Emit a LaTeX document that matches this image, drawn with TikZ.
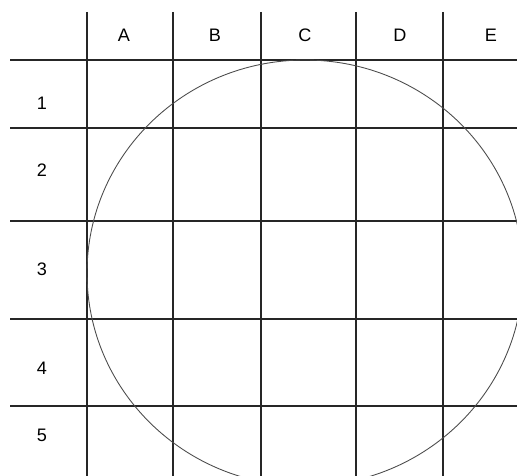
\documentclass[tikz,border=0pt]{standalone}
\usepackage{fontspec}
\setmainfont{Liberation Sans}
\usetikzlibrary{calc}
\tikzstyle{rule}=[line width=.6pt, black!85]
\tikzstyle{rim}=[line width=.5pt, black!70]
\tikzstyle{lbl}=[inner sep=0, font=\fontsize{10.3}{12}\selectfont]

\begin{document}
\begin{tikzpicture}[x=.02cm, y=-.02cm]
\useasboundingbox (0,0) rectangle (517,476);
\clip (0,0) rectangle (517,476);
%\draw[help lines,step=10] (0,0) grid (517,476);
% column rules
\foreach \x in {87,173,261,356,443}
  \draw[rule] (\x,12)--(\x,476);
% row rules
\foreach \y in {60,128,221,319,406}
  \draw[rule] (10,\y)--(517,\y);
\draw[rim] (305,273) ellipse [x radius=218, y radius=213];
\node at (124,35)[lbl](A){A};
\node at (215,35)[lbl](B){B};
\node at (305,35)[lbl](C){C};
\node at (400,35)[lbl](D){D};
\node at (491,35)[lbl](E){E};
\node at (42,103)[lbl](1){1};
\node at (42,170)[lbl](2){2};
\node at (42,269)[lbl](3){3};
\node at (42,368)[lbl](4){4};
\node at (42,435)[lbl](5){5};
\end{tikzpicture}
\end{document}
